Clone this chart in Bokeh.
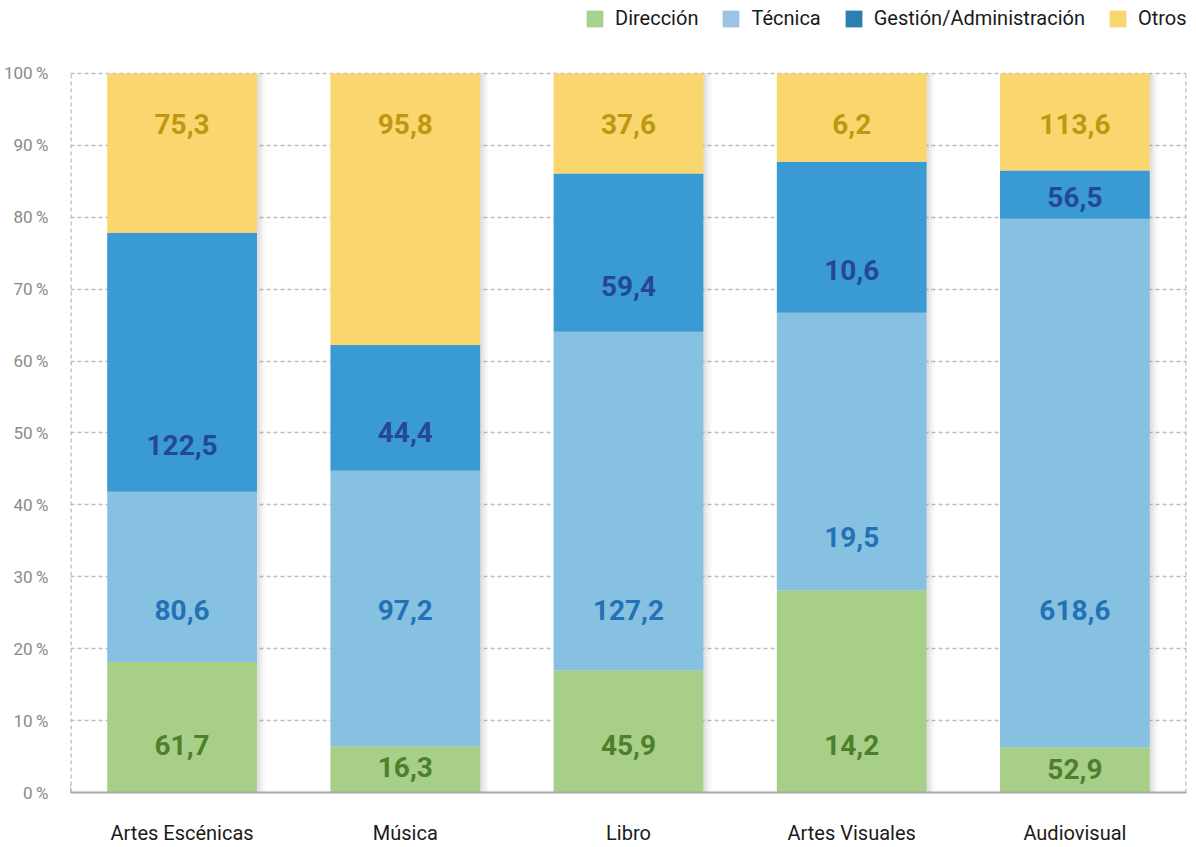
from bokeh.plotting import figure
from bokeh.models import ColumnDataSource, Range1d, FixedTicker, Legend, LegendItem
from bokeh.core.properties import value
from bokeh.embed import file_html
from bokeh.resources import INLINE

categories = ["Artes Escénicas", "Música", "Libro", "Artes Visuales", "Audiovisual"]
series = ["Dirección", "Técnica", "Gestión/Administración", "Otros"]
direccion = [61.7, 16.3, 45.9, 14.2, 52.9]
tecnica = [80.6, 97.2, 127.2, 19.5, 618.6]
gestion = [122.5, 44.4, 59.4, 10.6, 56.5]
otros = [75.3, 95.8, 37.6, 6.2, 113.6]
y_ticks = [0, 10, 20, 30, 40, 50, 60, 70, 80, 90, 100]

# label anchor heights (percent of bar) as drawn in the original
label_y_dir = [6.6, 3.6, 6.6, 6.6, 3.3]
label_y_tec = [25.4, 25.4, 25.4, 35.6, 25.4]
label_y_ges = [48.3, 50.2, 70.4, 72.7, 82.8]
label_y_otr = [93.0, 93.0, 93.0, 93.0, 93.0]

bar_colors = ["#A8CF88", "#86C1E2", "#3A9AD3", "#FAD76E"]
legend_colors = ["#A9D18E", "#9DC3E6", "#2E7FB0", "#FAD76E"]
label_colors = ["#4E7F2C", "#2472B6", "#24479A", "#BF9710"]

FONT = "Roboto"

vals = [direccion, tecnica, gestion, otros]
totals = [sum(v[i] for v in vals) for i in range(len(categories))]
xs = list(range(len(categories)))
data = {"x": xs}
keys = ["d", "t", "g", "o"]
for k, v in zip(keys, vals):
    data[k] = [v[i] / totals[i] * 100 for i in range(len(categories))]
source = ColumnDataSource(data)

# the frame reaches the top of the canvas so that the legend (clipped to the frame) fits above 100 %
p = figure(width=1188, height=847, output_backend="svg", toolbar_location=None,
           x_range=Range1d(-0.5, 4.5), y_range=Range1d(0, 110.15),
           min_border_left=68, min_border_right=2, min_border_top=0, min_border_bottom=55)
p.background_fill_color = "white"
p.border_fill_color = "white"
p.outline_line_color = None

p.xgrid.visible = False
p.ygrid.ticker = FixedTicker(ticks=y_ticks)
p.ygrid.grid_line_color = "#BDBDBD"
p.ygrid.grid_line_dash = "4 3"
p.ygrid.grid_line_width = 1.3

# dashed side borders of the plotting area
p.segment(x0=[-0.5, 4.5], y0=[0, 0], x1=[-0.5, 4.5], y1=[100, 100],
          line_color="#BDBDBD", line_dash="4 3", line_width=2.6)

# shadows
for off, a in [(0.012, 0.10), (0.024, 0.08), (0.036, 0.05)]:
    p.vbar(x=[x + off for x in xs], top=[100] * len(xs), bottom=[-0.4] * len(xs),
           width=0.671, fill_color="#777777", fill_alpha=a, line_color=None)

p.vbar_stack(keys, x="x", width=0.671, color=bar_colors, line_color=None, source=source)

# labels
lx, ly, lt, lc = [], [], [], []
for v, ys, c in zip(vals, [label_y_dir, label_y_tec, label_y_ges, label_y_otr], label_colors):
    for i in xs:
        lx.append(i)
        ly.append(ys[i])
        lt.append(f"{v[i]:.1f}".replace(".", ","))
        lc.append(c)
lsrc = ColumnDataSource(dict(x=lx, y=ly, t=lt, c=lc))
p.text(x="x", y="y", text="t", text_color="c", source=lsrc, text_align="center",
       text_baseline="middle", text_font=value(FONT), text_font_style="bold",
       text_font_size="28px")

# axes
p.yaxis.ticker = FixedTicker(ticks=y_ticks)
p.yaxis.major_label_overrides = {t: f"{t}\u2009%" for t in y_ticks}
p.yaxis.major_label_text_font = FONT
p.yaxis.major_label_text_font_size = "17px"
p.yaxis.major_label_text_color = "#8A8A8A"
p.yaxis.axis_line_color = None
p.yaxis.major_tick_line_color = None
p.yaxis.minor_tick_line_color = None
p.yaxis.major_label_standoff = 16

p.xaxis.ticker = FixedTicker(ticks=xs)
p.xaxis.major_label_overrides = {i: c for i, c in enumerate(categories)}
p.xaxis.major_label_text_font = FONT
p.xaxis.major_label_text_font_size = "20px"
p.xaxis.major_label_text_color = "#1A1A1A"
p.xaxis.axis_line_color = "#AAAAAA"
p.xaxis.axis_line_width = 2
p.xaxis.major_tick_line_color = None
p.xaxis.minor_tick_line_color = None
p.xaxis.major_label_standoff = 22

# legend (dummy renderers placed outside the visible x range)
items = []
for name, col in zip(series, legend_colors):
    r = p.vbar(x=[-10], top=[1], width=0.5, fill_color=col, line_color=None)
    items.append(LegendItem(label=name, renderers=[r]))
legend = Legend(items=items, orientation="horizontal", location=(514, 762),
                glyph_width=21, glyph_height=21, label_height=21, label_standoff=10, spacing=22,
                padding=0, margin=0, background_fill_alpha=0, border_line_color=None,
                label_text_font=FONT, label_text_font_size="20px", label_text_color="#1A1A1A")
p.add_layout(legend, "center")

open("out.html", "w").write(file_html(p, INLINE))
